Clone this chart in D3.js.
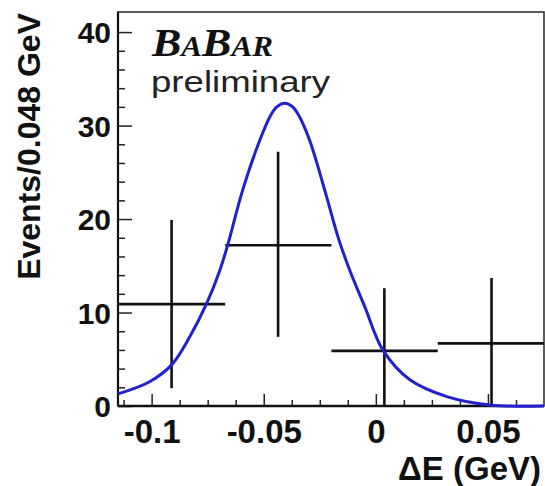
<!DOCTYPE html>
<html>
<head>
<meta charset="utf-8">
<script src="https://cdn.jsdelivr.net/npm/d3@7"></script>
<style>
  body { margin: 0; background: #fff; }
  svg { display: block; }
</style>
</head>
<body>
<div id="chartArea"><svg id="chart"></svg></div>
<script>
// histogram bins (Delta E, GeV)
const binEdges = [-0.115, -0.0672, -0.0198, 0.0276, 0.075];
const binCenters = [-0.0911, -0.0436, 0.0038, 0.0516];
const binCounts = [10.9, 17.2, 5.9, 6.7];
const errHigh = [19.9, 27.2, 12.6, 13.7];
const errLow = [1.9, 7.4, 0, 0];

// fitted curve
const fitX = [-0.115, -0.1009, -0.0911, -0.083, -0.0754, -0.0696, -0.0661, -0.0594, -0.0518, -0.0469, -0.0442,
  -0.0406, -0.0371, -0.0344, -0.0295, -0.0228, -0.0165, -0.0116, -0.0049, 0.0031, 0.0152, 0.0317, 0.0509, 0.075];
const fitY = [1.3, 2.6, 4.4, 7.4, 11.0, 14.5, 17.2, 23.1, 28.4, 31.1, 32.0,
  32.4, 32.0, 31.1, 28.4, 23.1, 17.8, 14.5, 10.6, 6.0, 2.8, 1.0, 0.1, 0.0];

const yMajor = [0, 10, 20, 30, 40];
const xMajor = [-0.1, -0.05, 0, 0.05];
const xLabels = ["-0.1", "-0.05", "0", "0.05"];

const width = 545, height = 486;
const margin = { top: 12, left: 118, bottom: 80, right: 1 };
const iwidth = width - margin.left - margin.right;
const iheight = height - margin.top - margin.bottom;
const sans = "'Liberation Sans', Arial, Helvetica, sans-serif";

const svg = d3.select("#chart").attr("width", width).attr("height", height)
  .attr("font-family", sans);
const g = svg.append("g").attr("transform", `translate(${margin.left},${margin.top})`);

const x = d3.scaleLinear().domain([-0.115, 0.075]).range([0, iwidth]);
const y = d3.scaleLinear().domain([0, 42.15]).range([iheight, 0]);

// minor ticks
const yMinor = d3.range(0, 41, 2).filter(v => v % 10 !== 0);
const xMinor = d3.range(-0.1125, 0.075, 0.0125).filter(v => Math.abs(v / 0.05 - Math.round(v / 0.05)) > 0.01);

g.append("g").call(d3.axisLeft(y).tickValues(yMinor).tickSize(-7).tickFormat(""))
  .call(a => a.select(".domain").remove());
g.append("g").call(d3.axisLeft(y).tickValues(yMajor).tickSize(-14).tickPadding(7).tickFormat(d3.format("d")))
  .call(a => a.select(".domain").remove())
  .call(a => a.selectAll("text").attr("font-size", 30).attr("font-weight", "bold")
    .attr("font-family", sans).attr("fill", "#111").attr("dy", "0.36em"));

g.append("g").attr("transform", `translate(0,${iheight})`)
  .call(d3.axisBottom(x).tickValues(xMinor).tickSize(-6).tickFormat(""))
  .call(a => a.select(".domain").remove());
g.append("g").attr("transform", `translate(0,${iheight})`)
  .call(d3.axisBottom(x).tickValues(xMajor).tickSize(-12).tickPadding(14).tickFormat((d, i) => xLabels[i]))
  .call(a => a.select(".domain").remove())
  .call(a => a.selectAll("text").attr("font-size", 33).attr("font-weight", "bold")
    .attr("font-family", sans).attr("fill", "#111").attr("dy", "0.71em"));

g.selectAll(".tick line").attr("stroke", "#222").attr("stroke-width", 1.5);

// frame
g.append("rect").attr("x", 0).attr("y", 0).attr("width", iwidth).attr("height", iheight)
  .attr("fill", "none").attr("stroke", "#333").attr("stroke-width", 1.6);
g.append("line").attr("x1", 0).attr("x2", iwidth).attr("y1", iheight).attr("y2", iheight)
  .attr("stroke", "#111").attr("stroke-width", 2.5);
g.append("line").attr("x1", 0).attr("x2", 0).attr("y1", 0).attr("y2", iheight)
  .attr("stroke", "#111").attr("stroke-width", 2.2);

// fit curve
const fit = fitX.map((v, i) => [v, fitY[i]]);
const line = d3.line().x(d => x(d[0])).y(d => y(d[1])).curve(d3.curveCatmullRom.alpha(0.5));

// data points with error bars
const pts = g.append("g").attr("stroke", "#111").attr("stroke-width", 2.6);
binCounts.forEach((c, i) => {
  pts.append("line").attr("x1", x(binEdges[i])).attr("x2", x(binEdges[i + 1]))
    .attr("y1", y(c)).attr("y2", y(c));
  pts.append("line").attr("x1", x(binCenters[i])).attr("x2", x(binCenters[i]))
    .attr("y1", y(errLow[i])).attr("y2", y(errHigh[i]));
});

g.append("path").datum(fit).attr("d", line).attr("fill", "none")
  .attr("stroke", "#2121cf").attr("stroke-width", 3);

// labels
svg.append("text").attr("transform", "translate(40,13) rotate(-90)")
  .attr("text-anchor", "end").attr("font-size", 32).attr("font-weight", "bold")
  .attr("fill", "#111").text("Events/0.048 GeV");

svg.append("text").attr("x", 541).attr("y", 480).attr("text-anchor", "end")
  .attr("font-size", 33).attr("font-weight", "bold").attr("fill", "#111").text("\u0394E (GeV)");

const babar = svg.append("text").attr("x", 152).attr("y", 56)
  .attr("font-family", "'Liberation Serif', 'DejaVu Serif', serif")
  .attr("font-style", "italic").attr("font-weight", "bold").attr("fill", "#111")
  .attr("textLength", 121).attr("lengthAdjust", "spacingAndGlyphs");
babar.append("tspan").attr("font-size", 41).text("B");
babar.append("tspan").attr("font-size", 29).text("A");
babar.append("tspan").attr("font-size", 41).text("B");
babar.append("tspan").attr("font-size", 29).text("AR");

svg.append("text").attr("x", 151).attr("y", 92).attr("font-size", 30)
  .attr("fill", "#222").attr("textLength", 179).attr("lengthAdjust", "spacingAndGlyphs")
  .text("preliminary");
</script>
</body>
</html>
